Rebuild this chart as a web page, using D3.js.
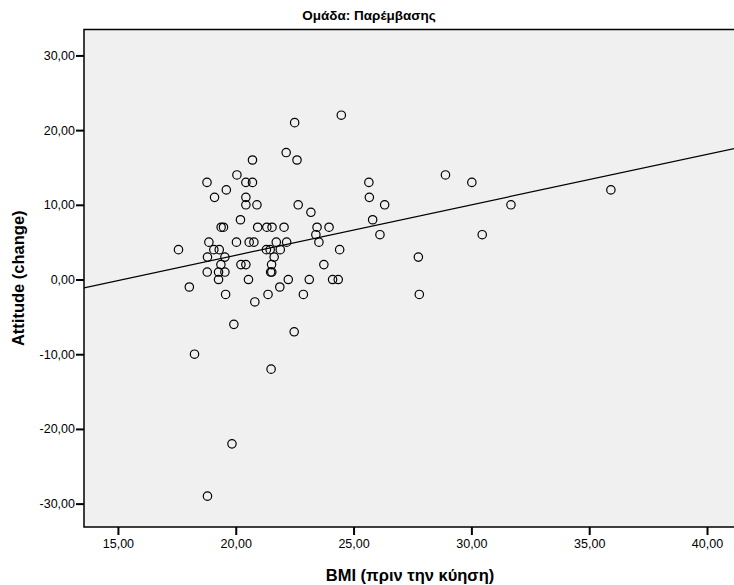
<!DOCTYPE html>
<html>
<head>
<meta charset="utf-8">
<script src="https://cdn.jsdelivr.net/npm/d3@7.9.0/dist/d3.min.js"></script>
<style>
  body { margin: 0; background: #fff; }
  svg { display: block; font-family: "Liberation Sans", Arial, sans-serif; }
</style>
</head>
<body>
<svg id="chart" width="734" height="585"></svg>
<script>
// BMI before pregnancy (x) and attitude change (y), intervention group
const bmi = [
  22.50, 24.48, 22.14, 22.60, 20.71, 20.05, 18.78, 20.43, 20.71, 19.60,
  19.10, 20.43, 20.43, 20.90, 22.65, 23.19, 25.65, 25.67, 26.32, 25.81,
  26.12, 20.20, 19.38, 19.48, 20.93, 21.32, 21.54, 22.05, 23.45, 23.96,
  23.40, 23.53, 18.86, 20.03, 20.57, 20.77, 21.72, 22.16, 17.57, 19.07,
  19.30, 21.30, 21.46, 21.89, 24.41, 18.80, 19.54, 21.63, 19.37, 20.22,
  20.43, 21.52, 23.74, 18.79, 19.27, 19.54, 21.48, 21.53, 19.27, 20.54,
  22.23, 23.12, 24.11, 24.35, 18.03, 21.87, 19.57, 21.37, 22.87, 20.81,
  28.90, 30.02, 31.68, 30.46, 27.75, 27.79, 35.92, 19.92, 22.48, 18.25,
  21.50, 19.84, 18.80
];
const attitude = [
  21, 22, 17, 16, 16, 14, 13, 13, 13, 12,
  11, 11, 10, 10, 10, 9, 13, 11, 10, 8,
  6, 8, 7, 7, 7, 7, 7, 7, 7, 7,
  6, 5, 5, 5, 5, 5, 5, 5, 4, 4,
  4, 4, 4, 4, 4, 3, 3, 3, 2, 2,
  2, 2, 2, 1, 1, 1, 1, 1, 0, 0,
  0, 0, 0, 0, -1, -1, -2, -2, -2, -3,
  14, 13, 10, 6, 3, -2, 12, -6, -7, -10,
  -12, -22, -29
];
const xTicks = [15, 20, 25, 30, 35, 40];
const yTicks = [-30, -20, -10, 0, 10, 20, 30];
// fit line
const fitSlope = 0.676;
const fitIntercept = -10.28;

// SPSS style: comma decimal, plain hyphen for minus
const fmt = v => v.toFixed(2).replace(".", ",");

const svg = d3.select("#chart");
const plotLeft = 84, plotRight = 740, plotTop = 29.5, plotBottom = 527;

const x = d3.scaleLinear().domain([13.56, 41.4]).range([plotLeft, plotRight]);
const y = d3.scaleLinear().domain([-33.13, 33.47]).range([plotBottom, plotTop]);

// plot background + frame
svg.append("rect")
  .attr("x", plotLeft).attr("y", plotTop)
  .attr("width", plotRight - plotLeft).attr("height", plotBottom - plotTop)
  .attr("fill", "#f0f0f0")
  .attr("stroke", "#000")
  .attr("stroke-width", 1.5);

const xAxis = svg.append("g")
  .attr("transform", `translate(0,${plotBottom})`)
  .call(d3.axisBottom(x).tickValues(xTicks).tickFormat(fmt).tickSize(8).tickPadding(4).tickSizeOuter(0));
const yAxis = svg.append("g")
  .attr("transform", `translate(${plotLeft},0)`)
  .call(d3.axisLeft(y).tickValues(yTicks).tickFormat(fmt).tickSize(8).tickPadding(1).tickSizeOuter(0));

[xAxis, yAxis].forEach(g => {
  g.select(".domain").remove();
  g.selectAll(".tick line").attr("stroke", "#000").attr("stroke-width", 2);
  g.selectAll(".tick text")
    .attr("fill", "#000")
    .style("font-family", "Liberation Sans, Arial, sans-serif")
    .style("font-size", "12.5px");
});

// clip to plot
svg.append("clipPath").attr("id", "clip")
  .append("rect").attr("x", plotLeft).attr("y", plotTop)
  .attr("width", plotRight - plotLeft).attr("height", plotBottom - plotTop);

const fitLine = d3.line().x(d => x(d)).y(d => y(fitIntercept + fitSlope * d));
svg.append("path")
  .attr("clip-path", "url(#clip)")
  .attr("d", fitLine(x.domain()))
  .attr("fill", "none")
  .attr("stroke", "#000")
  .attr("stroke-width", 1.2);

svg.append("g")
  .selectAll("circle")
  .data(d3.range(bmi.length))
  .join("circle")
  .attr("cx", i => x(bmi[i]))
  .attr("cy", i => y(attitude[i]))
  .attr("r", 4.2)
  .attr("fill", "none")
  .attr("stroke", "#000")
  .attr("stroke-width", 1.2);

// texts
svg.append("text")
  .attr("x", 369).attr("y", 20)
  .attr("text-anchor", "middle")
  .style("font-size", "13.5px").style("font-weight", "bold")
  .text("Ομάδα: Παρέμβασης");

svg.append("text")
  .attr("x", 410).attr("y", 581)
  .attr("text-anchor", "middle")
  .style("font-size", "16.5px").style("font-weight", "bold")
  .text("BMI (πριν την κύηση)");

svg.append("text")
  .attr("transform", `translate(24,${(plotTop + plotBottom) / 2}) rotate(-90)`)
  .attr("text-anchor", "middle")
  .style("font-size", "16.5px").style("font-weight", "bold")
  .text("Attitude (change)");
</script>
</body>
</html>
